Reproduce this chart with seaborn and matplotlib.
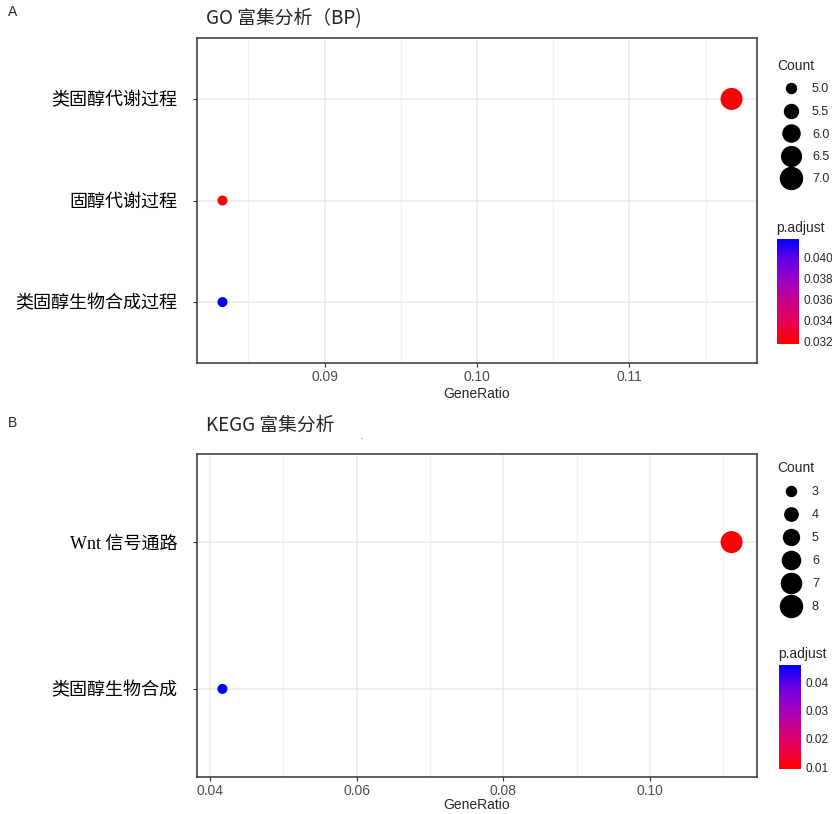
import matplotlib.pyplot as plt
import seaborn as sns
import numpy as np
import pandas as pd
from matplotlib.colors import LinearSegmentedColormap, Normalize
from matplotlib.cm import ScalarMappable
from matplotlib.lines import Line2D
from matplotlib.ticker import MultipleLocator

# GO (BP) 富集结果
go_terms = ['类固醇代谢过程', '固醇代谢过程', '类固醇生物合成过程']
go_ratio = [0.1167, 0.0833, 0.0833]
go_count = [7, 5, 5]
go_padj = [0.0318, 0.0320, 0.0417]
go_count_ticks = [5.0, 5.5, 6.0, 6.5, 7.0]
go_padj_ticks = [0.032, 0.034, 0.036, 0.038, 0.040]
go_x_ticks = [0.09, 0.10, 0.11]

# KEGG 富集结果
kegg_terms = ['Wnt 信号通路', '类固醇生物合成']
kegg_ratio = [0.1111, 0.0417]
kegg_count = [8, 3]
kegg_padj = [0.0093, 0.0460]
kegg_count_ticks = [3, 4, 5, 6, 7, 8]
kegg_padj_ticks = [0.01, 0.02, 0.03, 0.04]
kegg_x_ticks = [0.04, 0.06, 0.08, 0.10]

sns.set_style('white')
plt.rcParams['font.family'] = ['Liberation Sans', 'Noto Sans CJK SC']

# ggplot 风格的 red -> blue (Lab 插值近似)
cmap = LinearSegmentedColormap.from_list(
    'padj', ['#FF0000', '#E80050', '#CA0089', '#9A00C2', '#6800E7', '#0000FF'])
SIZES = (52, 251)

W, H = 832, 814
fig = plt.figure(figsize=(W / 100, H / 100), dpi=100)


def fbox(x0, y0, x1, y1):
    return [x0 / W, 1 - y1 / H, (x1 - x0) / W, (y1 - y0) / H]


def dotplot(ax, cax, terms, ratio, count, padj, x_ticks, x_minor, count_ticks, padj_ticks,
            padj_fmt, leg_xy, leg_spacing, xlab_pad):
    df = pd.DataFrame({'term': terms, 'GeneRatio': ratio, 'Count': count, 'p.adjust': padj})
    norm = Normalize(min(padj), max(padj))
    cmin, cmax = min(count), max(count)
    sns.scatterplot(data=df, x='GeneRatio', y='term', hue='p.adjust', size='Count',
                    palette=cmap, hue_norm=norm, sizes=SIZES, size_norm=(cmin, cmax),
                    edgecolor='none', legend=False, ax=ax, zorder=3)

    span = max(ratio) - min(ratio)
    ax.set_xlim(min(ratio) - 0.05 * span, max(ratio) + 0.05 * span)
    ax.set_ylim(len(terms) - 0.4, -0.6)
    ax.set_xticks(x_ticks)
    ax.xaxis.set_minor_locator(MultipleLocator(x_minor))
    ax.set_xticklabels([f'{t:.2f}' for t in x_ticks])
    ax.grid(True, which='major', color='#EBEBEB', lw=1.1, zorder=0)
    ax.grid(True, which='minor', axis='x', color='#F0F0F0', lw=0.8, zorder=0)
    ax.set_axisbelow(True)
    for s in ax.spines.values():
        s.set_color('#333333')
        s.set_linewidth(1.1)
    ax.tick_params(axis='x', which='major', bottom=True, length=3, width=0.8, color='#333333',
                   labelsize=10, labelcolor='#4D4D4D', pad=2)
    ax.tick_params(axis='x', which='minor', bottom=False)
    ax.tick_params(axis='y', left=True, length=3, width=0.8, color='#333333', pad=11)
    for lab in ax.get_yticklabels():
        lab.set_fontsize(13)
        lab.set_family(['Liberation Serif', 'Noto Sans CJK SC'])
        lab.set_color('black')
    ax.set_ylabel('')
    ax.set_xlabel('GeneRatio', fontsize=10, labelpad=xlab_pad)

    # Count 图例
    handles = []
    for c in count_ticks:
        area = SIZES[0] + (c - cmin) / (cmax - cmin) * (SIZES[1] - SIZES[0])
        handles.append(Line2D([], [], ls='', marker='o', color='black',
                              markersize=np.sqrt(area)))
    labels = [f'{c:.1f}' if isinstance(c, float) else str(c) for c in count_ticks]
    fig.legend(handles, labels, title='Count', loc='upper left',
               bbox_to_anchor=(leg_xy[0] / W, 1 - leg_xy[1] / H), frameon=False,
               fontsize=9, title_fontsize=10, alignment='left', handlelength=2.2,
               handletextpad=0.6, labelspacing=leg_spacing, borderpad=0, borderaxespad=0)

    # p.adjust 色条
    cb = fig.colorbar(ScalarMappable(norm=norm, cmap=cmap), cax=cax, ticks=padj_ticks)
    cb.outline.set_visible(False)
    cb.ax.tick_params(direction='in', color='white', length=4, width=0.8, left=True,
                      right=True, labelsize=8.5, pad=3)
    cb.ax.set_yticklabels([padj_fmt.format(t) for t in padj_ticks])
    cax.set_title('p.adjust', fontsize=10, loc='left', pad=5, x=-0.05)


axA = fig.add_axes(fbox(197, 38, 757, 363))
caxA = fig.add_axes(fbox(777, 239, 799, 344))
dotplot(axA, caxA, go_terms, go_ratio, go_count, go_padj, go_x_ticks, 0.005,
        go_count_ticks, go_padj_ticks, '{:.3f}', (777, 59), 0.84, 2.5)

axB = fig.add_axes(fbox(197, 454, 757, 777))
caxB = fig.add_axes(fbox(779, 665, 801, 769))
dotplot(axB, caxB, kegg_terms, kegg_ratio, kegg_count, kegg_padj, kegg_x_ticks, 0.01,
        kegg_count_ticks, kegg_padj_ticks, '{:.2f}', (777, 461), 0.88, 0)

fig.text(8 / W, 1 - 12 / H, 'A', fontsize=10, va='center', ha='left')
fig.text(8 / W, 1 - 423 / H, 'B', fontsize=10, va='center', ha='left')
fig.text(206 / W, 1 - 19 / H, 'GO 富集分析（BP)', fontsize=13.5, va='center', ha='left',
         family=['Noto Sans CJK SC', 'DejaVu Sans'])
fig.text(206 / W, 1 - 425 / H, 'KEGG 富集分析', fontsize=13.5, va='center', ha='left',
         family=['Noto Sans CJK SC', 'DejaVu Sans'])
fig.text(361 / W, 1 - 441 / H, '.', fontsize=6, va='bottom', ha='center')

fig.savefig('out.png', dpi=100, facecolor='white')
